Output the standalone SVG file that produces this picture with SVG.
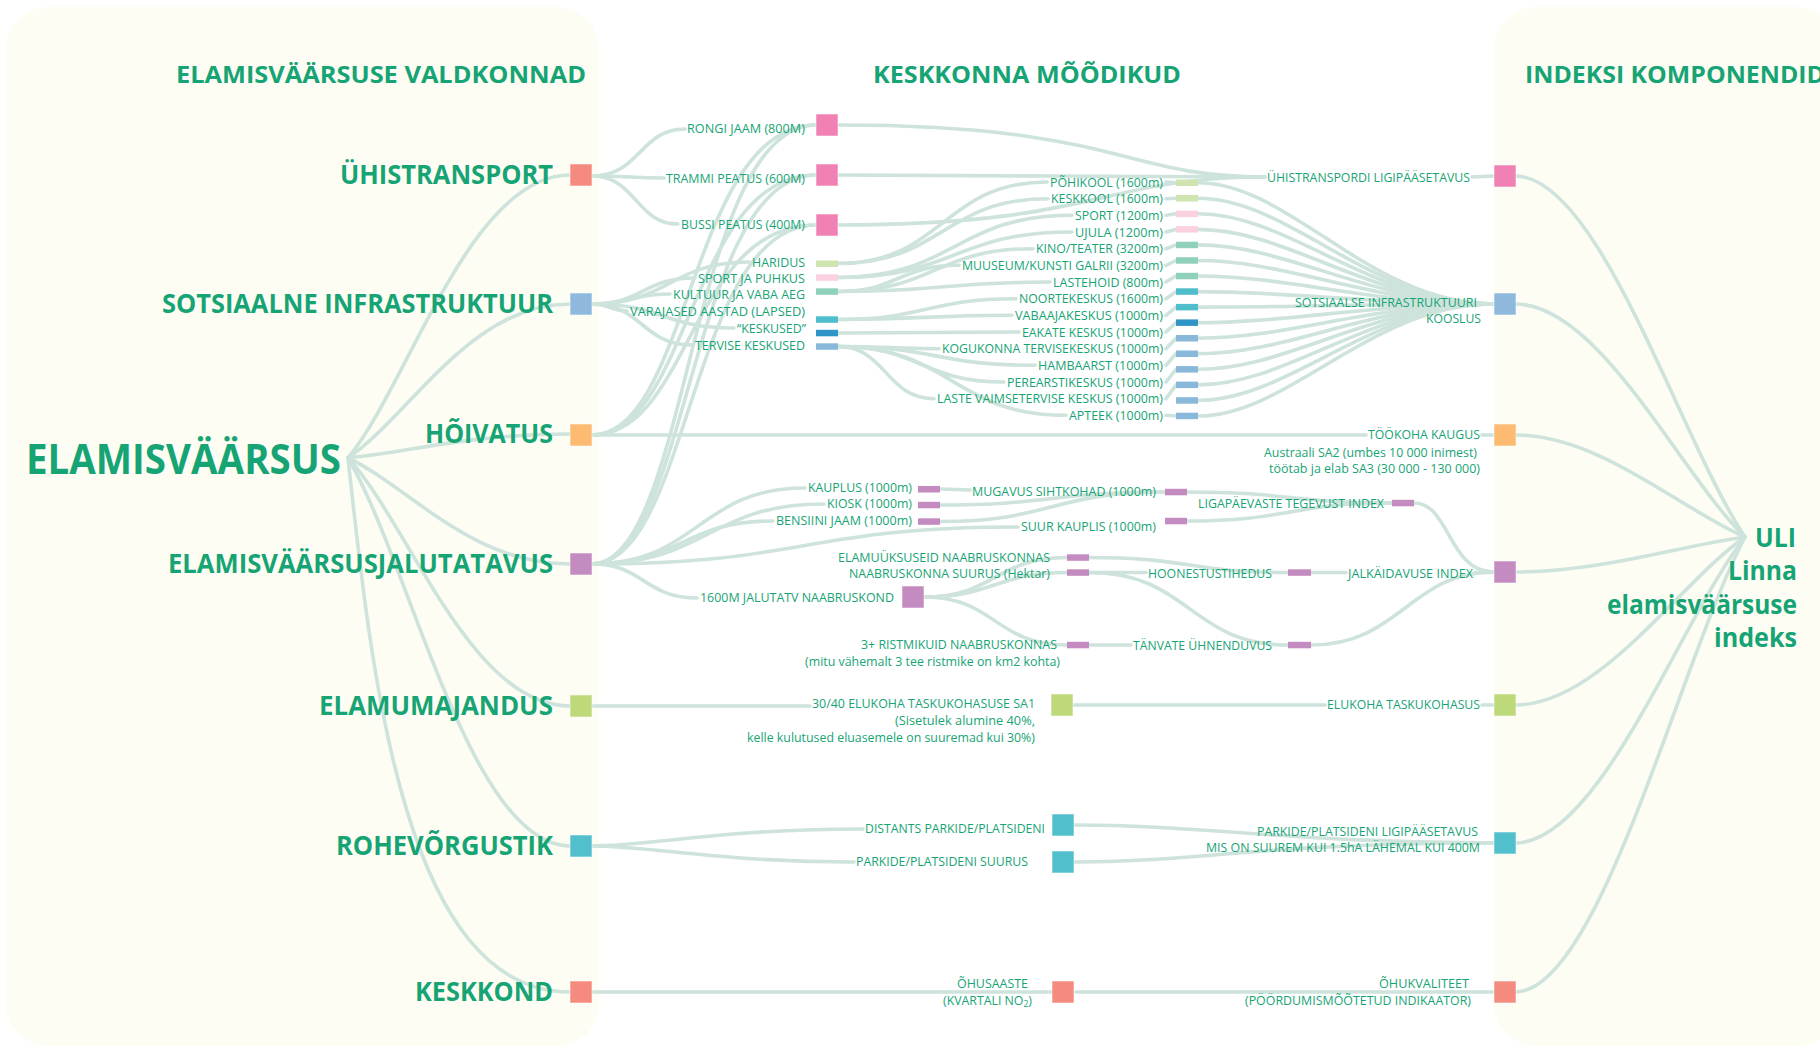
<svg xmlns="http://www.w3.org/2000/svg" width="1820" height="1049" viewBox="0 0 1820 1049">
<style>
  .bg{fill:#ffffff}
  .panel{fill:#fdfdf4}
  .link{fill:none;stroke:#cde3db;stroke-width:3.6;stroke-linecap:round}
  text{font-family:"Open Sans","Liberation Sans",sans-serif;fill:#17a474}
  .h{font-size:23px;font-weight:700}
  .cat{font-size:26px;font-weight:700}
  .big{font-size:41px;font-weight:700}
  .uli{font-size:27px;font-weight:700}
  .t{font-size:13px;font-weight:400}
  .sq{stroke:#ffffff;stroke-opacity:0.55;stroke-width:1}
  .c-red{fill:#f48b7e}
  .c-pink{fill:#f081b2}
  .c-blue{fill:#8fb9dc}
  .c-orange{fill:#fcbb70}
  .c-purple{fill:#c38bbf}
  .c-green{fill:#bdd97a}
  .c-teal{fill:#52bfcc}
  .b-edu{fill:#d0e4b0}
  .b-sport{fill:#fbd1e2}
  .b-cult{fill:#90d1bc}
  .b-early{fill:#4fbdcc}
  .b-cent{fill:#2f95c6}
  .b-health{fill:#8ab8da}
</style>
<rect class="bg" x="0" y="0" width="1820" height="1049"/>
<g id="panels">
  <rect class="panel" x="6" y="7" width="593" height="1039" rx="42"/>
  <rect class="panel" x="1494" y="7" width="345" height="1039" rx="42"/>
</g>

<g id="connectors">
  <!-- root fan -->
  <path class="link" d="M348,458 C410,382 470,175 570,175"/>
  <path class="link" d="M348,458 C410,416 470,304 570,304"/>
  <path class="link" d="M348,458 C410,452 470,434 570,434"/>
  <path class="link" d="M348,458 C410,487 470,564 570,564"/>
  <path class="link" d="M348,458 C410,525 470,706 570,706"/>
  <path class="link" d="M348,458 C410,563 470,846 570,846"/>
  <path class="link" d="M348,458 C372,680 405,992 570,992"/>
  <!-- transport -->
  <path class="link" d="M592,176 C640,176 640,129 685,129"/>
  <path class="link" d="M592,176 C630,176 630,178 664,178"/>
  <path class="link" d="M592,176 C636,176 636,224 678,224"/>
  <!-- employment & walkability to stops -->
  <path class="link" d="M592,435 C690,435 690,125 816,125"/>
  <path class="link" d="M592,435 C690,435 690,175 816,175"/>
  <path class="link" d="M592,435 C690,435 690,225 816,225"/>
  <path class="link" d="M592,564 C690,564 690,125 816,125"/>
  <path class="link" d="M592,564 C690,564 690,175 816,175"/>
  <path class="link" d="M592,564 C690,564 690,225 816,225"/>
  <!-- stops to index -->
  <path class="link" d="M838,125 C1120,125 1120,177 1265,177"/>
  <path class="link" d="M838,175 C1050,175 1050,177 1265,177"/>
  <path class="link" d="M838,225 C1100,225 1100,177 1265,177"/>
  <path class="link" d="M1472,177 L1494,176"/>
  <!-- social infrastructure -->
  <path class="link" d="M592,304 C670,304 670,262 749,262"/>
  <path class="link" d="M592,304 C643,304 643,278 695,278"/>
  <path class="link" d="M592,304 C631,304 631,294 670,294"/>
  <path class="link" d="M592,304 C610,304 610,311 627,311"/>
  <path class="link" d="M592,304 C663,304 663,328 734,328"/>
  <path class="link" d="M592,304 C642,304 642,345 692,345"/>
  <path class="link" d="M838,263.5 C943,263.5 943,182 1047,182"/>
  <path class="link" d="M838,263.5 C943,263.5 943,198.7 1048,198.7"/>
  <path class="link" d="M838,277.5 C955,277.5 955,215.3 1072,215.3"/>
  <path class="link" d="M838,277.5 C955,277.5 955,232 1072,232"/>
  <path class="link" d="M838,291.5 C935,291.5 935,248.7 1033,248.7"/>
  <path class="link" d="M838,291.5 C898,291.5 898,265.3 959,265.3"/>
  <path class="link" d="M838,291.5 C944,291.5 944,282 1050,282"/>
  <path class="link" d="M838,319.5 C927,319.5 927,298.7 1016,298.7"/>
  <path class="link" d="M838,319.5 C925,319.5 925,315.3 1012,315.3"/>
  <path class="link" d="M838,333 C928,333 928,332 1019,332"/>
  <path class="link" d="M838,346.5 C888,346.5 888,348.7 939,348.7"/>
  <path class="link" d="M838,346.5 C936,346.5 936,365.3 1035,365.3"/>
  <path class="link" d="M838,346.5 C921,346.5 921,382 1004,382"/>
  <path class="link" d="M838,346.5 C886,346.5 886,398.7 934,398.7"/>
  <path class="link" d="M838,346.5 C952,346.5 952,415.3 1066,415.3"/>
  <!-- label to bar stubs -->
  <path class="link" d="M1166,182 L1176,182.7 M1166,198.7 L1176,198.3 M1166,215.3 L1176,213.8 M1166,232 L1176,229.4 M1166,248.7 L1176,244.9 M1166,265.3 L1176,260.5 M1166,282 L1176,276 M1166,298.7 L1176,291.6 M1166,315.3 L1176,307.1 M1166,332 L1176,322.7 M1166,348.7 L1176,338.2 M1166,365.3 L1176,353.8 M1166,382 L1176,369.3 M1166,398.7 L1176,384.9 M1166,415.3 L1176,416"/>
  <!-- measures to social index -->
  <path class="link" d="M1198,182.7 C1290,182.7 1370,304 1494,304"/>
  <path class="link" d="M1198,198.3 C1290,198.3 1370,304 1494,304"/>
  <path class="link" d="M1198,213.8 C1290,213.8 1370,304 1494,304"/>
  <path class="link" d="M1198,229.4 C1290,229.4 1370,304 1494,304"/>
  <path class="link" d="M1198,244.9 C1290,244.9 1370,304 1494,304"/>
  <path class="link" d="M1198,260.5 C1290,260.5 1370,304 1494,304"/>
  <path class="link" d="M1198,276 C1290,276 1370,304 1494,304"/>
  <path class="link" d="M1198,291.6 C1290,291.6 1370,304 1494,304"/>
  <path class="link" d="M1198,307.1 C1290,307.1 1370,304 1494,304"/>
  <path class="link" d="M1198,322.7 C1290,322.7 1370,304 1494,304"/>
  <path class="link" d="M1198,338.2 C1290,338.2 1370,304 1494,304"/>
  <path class="link" d="M1198,353.8 C1290,353.8 1370,304 1494,304"/>
  <path class="link" d="M1198,369.3 C1290,369.3 1370,304 1494,304"/>
  <path class="link" d="M1198,384.9 C1290,384.9 1370,304 1494,304"/>
  <path class="link" d="M1198,400.4 C1290,400.4 1370,304 1494,304"/>
  <path class="link" d="M1198,416 C1290,416 1370,304 1494,304"/>
  <!-- employment -->
  <path class="link" d="M592,435 L1366,435"/>
  <path class="link" d="M1482,435 L1494,435"/>
  <!-- walkability -->
  <path class="link" d="M592,564 C698,564 698,488 805,488"/>
  <path class="link" d="M592,564 C708,564 708,504 824,504"/>
  <path class="link" d="M592,564 C682,564 682,521 773,521"/>
  <path class="link" d="M592,564 C805,564 805,527 1018,527"/>
  <path class="link" d="M592,564 C644,564 644,598 697,598"/>
  <path class="link" d="M940,489 C956,489 956,490 970,490"/>
  <path class="link" d="M940,505 C1052,505 1052,492 1165,492"/>
  <path class="link" d="M940,521.5 C1052,521.5 1052,492 1165,492"/>
  <path class="link" d="M1187,492 C1290,492 1290,503 1392,503"/>
  <path class="link" d="M1187,521 C1290,521 1290,503 1392,503"/>
  <path class="link" d="M1414,503 C1450,503 1448,572 1494,572"/>
  <path class="link" d="M924,597 C995,597 995,557.5 1067,557.5"/>
  <path class="link" d="M924,597 C995,597 995,572.5 1067,572.5"/>
  <path class="link" d="M924,597 C995,597 995,645 1067,645"/>
  <path class="link" d="M1089,557.5 C1190,557.5 1190,572.5 1288,572.5"/>
  <path class="link" d="M1089,572.5 L1146,572.5"/>
  <path class="link" d="M1089,572.5 C1190,572.5 1190,645 1288,645"/>
  <path class="link" d="M1089,645 L1131,645"/>
  <path class="link" d="M1311,572.5 L1346,572.5"/>
  <path class="link" d="M1475,572.5 L1494,572.5"/>
  <path class="link" d="M1311,645 C1400,645 1410,572 1494,572"/>
  <!-- housing -->
  <path class="link" d="M592,706 L810,706"/>
  <path class="link" d="M1073,705 L1325,705"/>
  <path class="link" d="M1482,705 L1494,705"/>
  <!-- green network -->
  <path class="link" d="M592,846 C650,846 720,829 863,829"/>
  <path class="link" d="M592,846 C650,846 720,862 854,862"/>
  <path class="link" d="M1074,825 C1200,825 1300,843 1494,843"/>
  <path class="link" d="M1074,862 C1200,862 1260,843 1494,843"/>
  <!-- environment -->
  <path class="link" d="M592,992 L1052,992"/>
  <path class="link" d="M1076,992 L1494,992"/>
  <!-- index fan -->
  <path class="link" d="M1515,176 C1600,176 1680,440 1745,537"/>
  <path class="link" d="M1515,304 C1600,304 1680,474 1745,537"/>
  <path class="link" d="M1515,435 C1600,435 1680,509 1745,537"/>
  <path class="link" d="M1515,572 C1600,572 1680,546 1745,537"/>
  <path class="link" d="M1515,705 C1600,705 1680,582 1745,537"/>
  <path class="link" d="M1515,843 C1600,843 1680,620 1745,537"/>
  <path class="link" d="M1515,992 C1600,992 1680,660 1745,537"/>
</g>

<g id="headings">
  <text class="h" x="176" y="83" textLength="410" lengthAdjust="spacingAndGlyphs">ELAMISVÄÄRSUSE VALDKONNAD</text>
  <text class="h" x="873" y="83" textLength="308" lengthAdjust="spacingAndGlyphs">KESKKONNA MÕÕDIKUD</text>
  <text class="h" x="1525" y="83" textLength="300" lengthAdjust="spacingAndGlyphs">INDEKSI KOMPONENDID</text>
</g>

<g id="root">
  <text class="big" x="26" y="474" textLength="315" lengthAdjust="spacingAndGlyphs">ELAMISVÄÄRSUS</text>
</g>

<g id="cat-uhistransport">
  <text class="cat" x="340" y="184" textLength="213" lengthAdjust="spacingAndGlyphs">ÜHISTRANSPORT</text>
  <rect class="sq c-red" x="570" y="164" width="22" height="22"/>
</g>
<g id="cat-sotsiaalne">
  <text class="cat" x="162" y="313" textLength="391" lengthAdjust="spacingAndGlyphs">SOTSIAALNE INFRASTRUKTUUR</text>
  <rect class="sq c-blue" x="570" y="293" width="22" height="22"/>
</g>
<g id="cat-hoivatus">
  <text class="cat" x="425" y="443" textLength="128" lengthAdjust="spacingAndGlyphs">HÕIVATUS</text>
  <rect class="sq c-orange" x="570" y="424" width="22" height="22"/>
</g>
<g id="cat-jalutatavus">
  <text class="cat" x="168" y="573" textLength="385" lengthAdjust="spacingAndGlyphs">ELAMISVÄÄRSUSJALUTATAVUS</text>
  <rect class="sq c-purple" x="570" y="553" width="22" height="22"/>
</g>
<g id="cat-elamumajandus">
  <text class="cat" x="319" y="715" textLength="234" lengthAdjust="spacingAndGlyphs">ELAMUMAJANDUS</text>
  <rect class="sq c-green" x="570" y="695" width="22" height="22"/>
</g>
<g id="cat-rohevorgustik">
  <text class="cat" x="336" y="855" textLength="217" lengthAdjust="spacingAndGlyphs">ROHEVÕRGUSTIK</text>
  <rect class="sq c-teal" x="570" y="835" width="22" height="22"/>
</g>
<g id="cat-keskkond">
  <text class="cat" x="415" y="1001" textLength="138" lengthAdjust="spacingAndGlyphs">KESKKOND</text>
  <rect class="sq c-red" x="570" y="981" width="22" height="22"/>
</g>

<g id="m-rongi">
  <text class="t" x="687" y="133" textLength="118" lengthAdjust="spacingAndGlyphs">RONGI JAAM (800M)</text>
  <rect class="sq c-pink" x="816" y="114" width="22" height="22"/>
</g>
<g id="m-trammi">
  <text class="t" x="666" y="183" textLength="139" lengthAdjust="spacingAndGlyphs">TRAMMI PEATUS (600M)</text>
  <rect class="sq c-pink" x="816" y="164" width="22" height="22"/>
</g>
<g id="m-bussi">
  <text class="t" x="681" y="229" textLength="124" lengthAdjust="spacingAndGlyphs">BUSSI PEATUS (400M)</text>
  <rect class="sq c-pink" x="816" y="214" width="22" height="22"/>
</g>

<g id="s-haridus">
  <text class="t" x="752" y="267" textLength="53" lengthAdjust="spacingAndGlyphs">HARIDUS</text>
  <rect class="b-edu" x="816" y="260.5" width="22" height="6.5"/>
</g>
<g id="s-sport">
  <text class="t" x="698" y="283" textLength="107" lengthAdjust="spacingAndGlyphs">SPORT JA PUHKUS</text>
  <rect class="b-sport" x="816" y="274.3" width="22" height="6.5"/>
</g>
<g id="s-kultuur">
  <text class="t" x="673" y="299" textLength="132" lengthAdjust="spacingAndGlyphs">KULTUUR JA VABA AEG</text>
  <rect class="b-cult" x="816" y="288.3" width="22" height="6.5"/>
</g>
<g id="s-varajased">
  <text class="t" x="630" y="316" textLength="175" lengthAdjust="spacingAndGlyphs">VARAJASED AASTAD (LAPSED)</text>
  <rect class="b-early" x="816" y="316.3" width="22" height="6.5"/>
</g>
<g id="s-keskused">
  <text class="t" x="737" y="333" textLength="69" lengthAdjust="spacingAndGlyphs">“KESKUSED”</text>
  <rect class="b-cent" x="816" y="329.8" width="22" height="6.5"/>
</g>
<g id="s-tervise">
  <text class="t" x="695" y="350" textLength="110" lengthAdjust="spacingAndGlyphs">TERVISE KESKUSED</text>
  <rect class="b-health" x="816" y="343.3" width="22" height="6.5"/>
</g>

<g id="social-measures">
  <text class="t" x="1050" y="186.5" textLength="113" lengthAdjust="spacingAndGlyphs">PÕHIKOOL (1600m)</text>
  <text class="t" x="1051" y="203.2" textLength="112" lengthAdjust="spacingAndGlyphs">KESKKOOL (1600m)</text>
  <text class="t" x="1075" y="219.8" textLength="88" lengthAdjust="spacingAndGlyphs">SPORT (1200m)</text>
  <text class="t" x="1075" y="236.5" textLength="88" lengthAdjust="spacingAndGlyphs">UJULA (1200m)</text>
  <text class="t" x="1036" y="253.2" textLength="127" lengthAdjust="spacingAndGlyphs">KINO/TEATER (3200m)</text>
  <text class="t" x="962" y="269.8" textLength="201" lengthAdjust="spacingAndGlyphs">MUUSEUM/KUNSTI GALRII (3200m)</text>
  <text class="t" x="1053" y="286.5" textLength="110" lengthAdjust="spacingAndGlyphs">LASTEHOID (800m)</text>
  <text class="t" x="1019" y="303.2" textLength="144" lengthAdjust="spacingAndGlyphs">NOORTEKESKUS (1600m)</text>
  <text class="t" x="1015" y="319.8" textLength="148" lengthAdjust="spacingAndGlyphs">VABAAJAKESKUS (1000m)</text>
  <text class="t" x="1022" y="336.5" textLength="141" lengthAdjust="spacingAndGlyphs">EAKATE KESKUS (1000m)</text>
  <text class="t" x="942" y="353.2" textLength="221" lengthAdjust="spacingAndGlyphs">KOGUKONNA TERVISEKESKUS (1000m)</text>
  <text class="t" x="1038" y="369.8" textLength="125" lengthAdjust="spacingAndGlyphs">HAMBAARST (1000m)</text>
  <text class="t" x="1007" y="386.5" textLength="156" lengthAdjust="spacingAndGlyphs">PEREARSTIKESKUS (1000m)</text>
  <text class="t" x="937" y="403.2" textLength="226" lengthAdjust="spacingAndGlyphs">LASTE VAIMSETERVISE KESKUS (1000m)</text>
  <text class="t" x="1069" y="419.8" textLength="94" lengthAdjust="spacingAndGlyphs">APTEEK (1000m)</text>
  <rect class="b-edu" x="1176" y="179.5" width="22" height="6.5"/>
  <rect class="b-edu" x="1176" y="195" width="22" height="6.5"/>
  <rect class="b-sport" x="1176" y="210.6" width="22" height="6.5"/>
  <rect class="b-sport" x="1176" y="226.1" width="22" height="6.5"/>
  <rect class="b-cult" x="1176" y="241.7" width="22" height="6.5"/>
  <rect class="b-cult" x="1176" y="257.2" width="22" height="6.5"/>
  <rect class="b-cult" x="1176" y="272.8" width="22" height="6.5"/>
  <rect class="b-early" x="1176" y="288.3" width="22" height="6.5"/>
  <rect class="b-early" x="1176" y="303.9" width="22" height="6.5"/>
  <rect class="b-cent" x="1176" y="319.4" width="22" height="6.5"/>
  <rect class="b-health" x="1176" y="335" width="22" height="6.5"/>
  <rect class="b-health" x="1176" y="350.5" width="22" height="6.5"/>
  <rect class="b-health" x="1176" y="366.1" width="22" height="6.5"/>
  <rect class="b-health" x="1176" y="381.6" width="22" height="6.5"/>
  <rect class="b-health" x="1176" y="397.2" width="22" height="6.5"/>
  <rect class="b-health" x="1176" y="412.7" width="22" height="6.5"/>
</g>

<g id="w-kauplus">
  <text class="t" x="808" y="492" textLength="104" lengthAdjust="spacingAndGlyphs">KAUPLUS (1000m)</text>
  <rect class="c-purple" x="918" y="486" width="22" height="6.5"/>
</g>
<g id="w-kiosk">
  <text class="t" x="827" y="508" textLength="85" lengthAdjust="spacingAndGlyphs">KIOSK (1000m)</text>
  <rect class="c-purple" x="918" y="501.8" width="22" height="6.5"/>
</g>
<g id="w-bensiini">
  <text class="t" x="776" y="525" textLength="136" lengthAdjust="spacingAndGlyphs">BENSIINI JAAM (1000m)</text>
  <rect class="c-purple" x="918" y="518.3" width="22" height="6.5"/>
</g>
<g id="w-mugavus">
  <text class="t" x="972" y="496" textLength="184" lengthAdjust="spacingAndGlyphs">MUGAVUS SIHTKOHAD (1000m)</text>
  <rect class="c-purple" x="1165" y="488.8" width="22" height="6.5"/>
</g>
<g id="w-suur">
  <text class="t" x="1021" y="531" textLength="135" lengthAdjust="spacingAndGlyphs">SUUR KAUPLIS (1000m)</text>
  <rect class="c-purple" x="1165" y="517.8" width="22" height="6.5"/>
</g>
<g id="w-ligapaevaste">
  <text class="t" x="1198" y="508" textLength="186" lengthAdjust="spacingAndGlyphs">LIGAPÄEVASTE TEGEVUST INDEX</text>
  <rect class="c-purple" x="1392" y="499.8" width="22" height="6.5"/>
</g>
<g id="w-elamuyksuseid">
  <text class="t" x="838" y="562" textLength="212" lengthAdjust="spacingAndGlyphs">ELAMUÜKSUSEID NAABRUSKONNAS</text>
  <rect class="c-purple" x="1067" y="554.3" width="22" height="6.5"/>
</g>
<g id="w-suurus">
  <text class="t" x="849" y="578" textLength="201" lengthAdjust="spacingAndGlyphs">NAABRUSKONNA SUURUS (Hektar)</text>
  <rect class="c-purple" x="1067" y="569.3" width="22" height="6.5"/>
</g>
<g id="w-1600m">
  <text class="t" x="700" y="602" textLength="194" lengthAdjust="spacingAndGlyphs">1600M JALUTATV NAABRUSKOND</text>
  <rect class="sq c-purple" x="902" y="586" width="22" height="22"/>
</g>
<g id="w-ristmikud">
  <text class="t" x="861" y="649" textLength="196" lengthAdjust="spacingAndGlyphs">3+ RISTMIKUID NAABRUSKONNAS</text>
  <text class="t" x="805" y="666" textLength="255" lengthAdjust="spacingAndGlyphs">(mitu vähemalt 3 tee ristmike on km2 kohta)</text>
  <rect class="c-purple" x="1067" y="641.8" width="22" height="6.5"/>
</g>
<g id="w-hoonestus">
  <text class="t" x="1148" y="578" textLength="124" lengthAdjust="spacingAndGlyphs">HOONESTUSTIHEDUS</text>
  <rect class="c-purple" x="1288" y="569.3" width="23" height="6.5"/>
</g>
<g id="w-tanvate">
  <text class="t" x="1133" y="650" textLength="139" lengthAdjust="spacingAndGlyphs">TÄNVATE ÜHNENDUVUS</text>
  <rect class="c-purple" x="1288" y="641.8" width="23" height="6.5"/>
</g>

<g id="h-sa1">
  <text class="t" x="812" y="708" textLength="223" lengthAdjust="spacingAndGlyphs">30/40 ELUKOHA TASKUKOHASUSE SA1</text>
  <text class="t" x="895" y="725" textLength="140" lengthAdjust="spacingAndGlyphs">(Sisetulek alumine 40%,</text>
  <text class="t" x="747" y="742" textLength="288" lengthAdjust="spacingAndGlyphs">kelle kulutused eluasemele on suuremad kui 30%)</text>
  <rect class="sq c-green" x="1051" y="694" width="22" height="22"/>
</g>
<g id="g-distants">
  <text class="t" x="865" y="833" textLength="180" lengthAdjust="spacingAndGlyphs">DISTANTS PARKIDE/PLATSIDENI</text>
  <rect class="sq c-teal" x="1052" y="814" width="22" height="22"/>
</g>
<g id="g-suurus">
  <text class="t" x="856" y="866" textLength="172" lengthAdjust="spacingAndGlyphs">PARKIDE/PLATSIDENI SUURUS</text>
  <rect class="sq c-teal" x="1052" y="851" width="22" height="22"/>
</g>
<g id="e-ohusaaste">
  <text class="t" x="957" y="988" textLength="71" lengthAdjust="spacingAndGlyphs">ÕHUSAASTE</text>
  <text class="t" x="943" y="1005" textLength="89" lengthAdjust="spacingAndGlyphs">(KVARTALI NO<tspan font-size="9" dy="2">2</tspan><tspan dy="-2">)</tspan></text>
  <rect class="sq c-red" x="1052" y="981" width="22" height="22"/>
</g>

<g id="i-transport">
  <text class="t" x="1267" y="182" textLength="203" lengthAdjust="spacingAndGlyphs">ÜHISTRANSPORDI LIGIPÄÄSETAVUS</text>
  <rect class="sq c-pink" x="1494" y="165" width="22" height="22"/>
</g>
<g id="i-sotsiaalne">
  <text class="t" x="1295" y="307" textLength="182" lengthAdjust="spacingAndGlyphs">SOTSIAALSE INFRASTRUKTUURI</text>
  <text class="t" x="1426" y="323" textLength="55" lengthAdjust="spacingAndGlyphs">KOOSLUS</text>
  <rect class="sq c-blue" x="1494" y="293" width="22" height="22"/>
</g>
<g id="i-tookoha">
  <text class="t" x="1368" y="439" textLength="112" lengthAdjust="spacingAndGlyphs">TÖÖKOHA KAUGUS</text>
  <text class="t" x="1264" y="457" textLength="213" lengthAdjust="spacingAndGlyphs">Austraali SA2 (umbes 10 000 inimest)</text>
  <text class="t" x="1269" y="473" textLength="211" lengthAdjust="spacingAndGlyphs">töötab ja elab SA3 (30 000 - 130 000)</text>
  <rect class="sq c-orange" x="1494" y="424" width="22" height="22"/>
</g>
<g id="i-jalkaidavuse">
  <text class="t" x="1348" y="578" textLength="125" lengthAdjust="spacingAndGlyphs">JALKÄIDAVUSE INDEX</text>
  <rect class="sq c-purple" x="1494" y="561" width="22" height="22"/>
</g>
<g id="i-elukoha">
  <text class="t" x="1327" y="709" textLength="153" lengthAdjust="spacingAndGlyphs">ELUKOHA TASKUKOHASUS</text>
  <rect class="sq c-green" x="1494" y="694" width="22" height="22"/>
</g>
<g id="i-parkide">
  <text class="t" x="1257" y="836" textLength="221" lengthAdjust="spacingAndGlyphs">PARKIDE/PLATSIDENI LIGIPÄÄSETAVUS</text>
  <text class="t" x="1206" y="852" textLength="274" lengthAdjust="spacingAndGlyphs">MIS ON SUUREM KUI 1.5hA LÄHEMAL KUI 400M</text>
  <rect class="sq c-teal" x="1494" y="832" width="22" height="22"/>
</g>
<g id="i-ohukvaliteet">
  <text class="t" x="1379" y="988" textLength="90" lengthAdjust="spacingAndGlyphs">ÕHUKVALITEET</text>
  <text class="t" x="1245" y="1005" textLength="226" lengthAdjust="spacingAndGlyphs">(PÖÖRDUMISMÕÕTETUD INDIKAATOR)</text>
  <rect class="sq c-red" x="1494" y="981" width="22" height="22"/>
</g>

<g id="uli">
  <text class="uli" x="1755" y="547" textLength="41" lengthAdjust="spacingAndGlyphs">ULI</text>
  <text class="uli" x="1728" y="580" textLength="69" lengthAdjust="spacingAndGlyphs">Linna</text>
  <text class="uli" x="1607" y="614" textLength="190" lengthAdjust="spacingAndGlyphs">elamisväärsuse</text>
  <text class="uli" x="1714" y="647" textLength="83" lengthAdjust="spacingAndGlyphs">indeks</text>
</g>
</svg>
